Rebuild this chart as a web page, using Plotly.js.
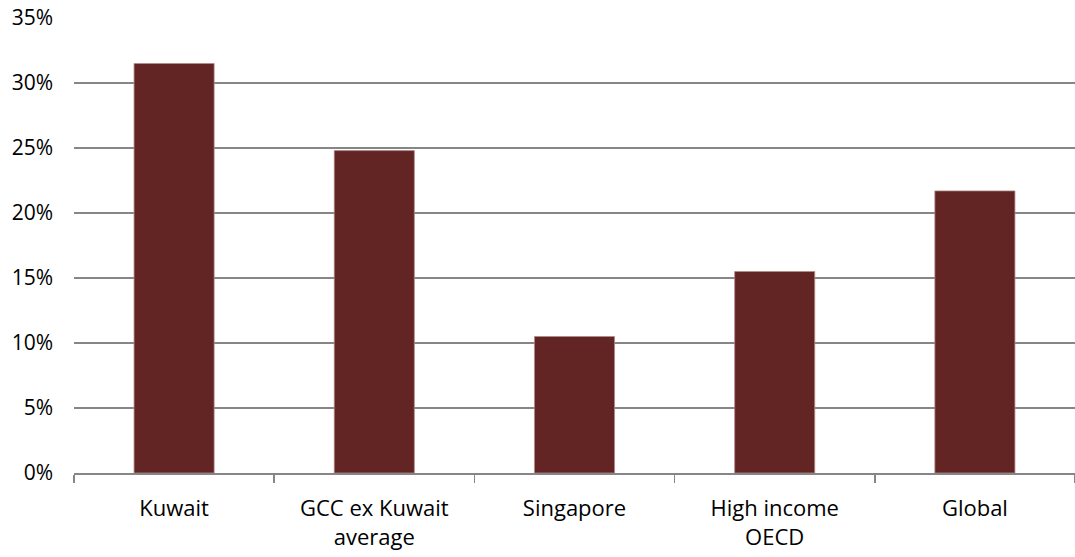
<!DOCTYPE html>
<html>
<head>
<meta charset="utf-8">
<script src="https://cdn.plot.ly/plotly-3.0.1.min.js"></script>
<style>html,body{margin:0;padding:0;background:#fff;}#chart{width:1075px;height:557px;}</style>
</head>
<body>
<div id="chart"></div>
<script>
const categories = ["Kuwait", "GCC ex Kuwait<br>average", "Singapore", "High income<br>OECD", "Global"];
const values = [0.315, 0.248, 0.105, 0.155, 0.217];
const yTicks = [0, 0.05, 0.10, 0.15, 0.20, 0.25, 0.30, 0.35];

const trace = {
  type: "bar",
  x: categories,
  y: values,
  marker: {color: "#632523", line: {color: "#b08a89", width: 0.8}},
  hoverinfo: "skip"
};

const layout = {
  width: 1075, height: 557,
  margin: {l: 74, r: 0, t: 18, b: 84},
  paper_bgcolor: "#fff", plot_bgcolor: "#fff",
  bargap: 0.6,
  showlegend: false,
  font: {family: "'Open Sans', sans-serif", size: 20, color: "#000"},
  xaxis: {
    type: "category",
    showgrid: false,
    showline: true, linecolor: "#868686", linewidth: 1.5,
    ticks: "outside", ticklen: 8, tickcolor: "#868686", tickwidth: 1.5,
    tickson: "boundaries",
    ticklabelstandoff: 15,
    tickfont: {size: 22}
  },
  yaxis: {
    range: [0, 0.35],
    tickvals: yTicks,
    tickformat: ".0%",
    showline: false,
    showgrid: true, gridcolor: "#868686", gridwidth: 1.5,
    zeroline: false,
    ticks: "",
    ticklabelstandoff: 20,
    tickfont: {size: 21}
  }
};

Plotly.newPlot("chart", [trace], layout, {displayModeBar: false, staticPlot: true});
</script>
</body>
</html>
